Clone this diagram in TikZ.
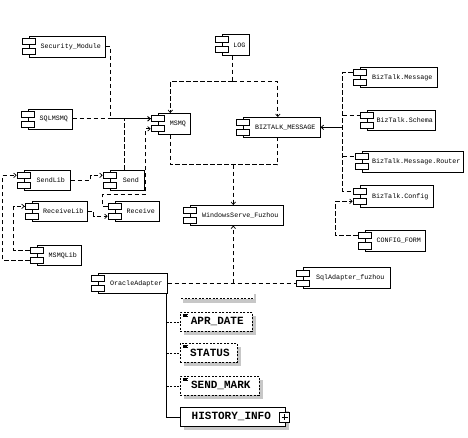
\documentclass[tikz,border=0pt]{standalone}
\usepackage{fontspec}
\newfontfamily\compfont{Liberation Mono}
\usetikzlibrary{arrows.meta,calc,shadows}

\newcommand{\compnode}[6]{%
  \fill[compshadow] (#2+1.2,#3+1.2) rectangle (#4+1.2,#5+1.2);
  \node[compbox, minimum width={(#4-#2)*1pt}, minimum height={(#5-#3)*1pt}] (#1) at (#2,#3) {\hspace*{7pt}#6};
  \node[comppin] (#1-u) at ($(#1.west)+(-0.5,-5)$) {};
  \node[comppin] (#1-l) at ($(#1.west)+(-0.5,5)$) {};
}

\begin{document}
\begin{tikzpicture}[x=1pt,y=-1pt,
  compshadow/.style={fill=black!65},
  compbox/.style={draw, fill=white, line width=0.6pt, inner xsep=1pt, inner ysep=0pt, anchor=north west,
    font=\compfont\fontsize{6.7}{7}\selectfont},
  comppin/.style={draw, fill=white, line width=0.6pt, minimum width=13pt, minimum height=6pt, inner sep=0pt},
  dep/.style={line width=0.7pt, dash pattern=on 4.5pt off 2.5pt},
  arr/.style={-{Straight Barb[length=2.5pt,width=4.5pt]}},
  finedash/.style={line width=0.6pt, dash pattern=on 2pt off 1.5pt},
  schshadow/.style={fill=black!22},
  attrbox/.style={draw, fill=white, line width=0.6pt, dash pattern=on 2pt off 1.5pt, anchor=north west, inner sep=0pt,
    font=\compfont\bfseries\fontsize{11}{12}\selectfont,
    general shadow={fill=black!22, shadow xshift=4pt, shadow yshift=-4pt}},
  histbox/.style={draw, fill=white, line width=0.7pt, anchor=north west, inner sep=0pt,
    font=\compfont\bfseries\fontsize{11}{12}\selectfont,
    general shadow={fill=black!22, shadow xshift=4pt, shadow yshift=-4pt}},
  plusbox/.style={draw, fill=white, line width=0.6pt, minimum size=10pt, inner sep=0pt,
    path picture={
      \draw[line width=0.6pt] ([yshift=-2pt]path picture bounding box.north) -- ([yshift=2pt]path picture bounding box.south);
      \draw[line width=0.6pt] ([xshift=2pt]path picture bounding box.west) -- ([xshift=-2pt]path picture bounding box.east);}}
]
\useasboundingbox (0,0) rectangle (468,438);

% components
\compnode{sec}{29}{36}{105}{57}{Security\_Module}
\compnode{log}{222}{34}{249}{55}{LOG}
\compnode{sqlmsmq}{28}{109}{72}{129}{SQLMSMQ}
\compnode{msmq}{158}{113}{190}{134}{MSMQ}
\compnode{biz}{243}{117}{320}{137}{BIZTALK\_MESSAGE}
\compnode{bzmsg}{360}{67}{437}{87}{BizTalk.Message}
\compnode{bzsch}{367}{110}{435}{130}{BizTalk.Schema}
\compnode{bzrt}{362}{151}{463}{172}{BizTalk.Message.Router}
\compnode{bzcfg}{360}{185}{433}{207}{BizTalk.Config}
\compnode{cfgform}{365}{230}{425}{251}{CONFIG\_FORM}
\compnode{sendlib}{24}{170}{70}{190}{SendLib}
\compnode{send}{110}{170}{144}{190}{Send}
\compnode{recvlib}{32}{201}{87}{221}{ReceiveLib}
\compnode{recv}{115}{201}{159}{221}{Receive}
\compnode{msmqlib}{37}{245}{81}{265}{MSMQLib}
\compnode{ws}{190}{205}{283}{225}{WindowsServe\_Fuzhou}
\compnode{oa}{98}{273}{167}{293}{OracleAdapter}
\compnode{sql}{303}{267}{390}{288}{SqlAdapter\_fuzhou}

% MSMQ inputs
\draw[dep,arr] (sec.east) -- ++(5,0) |- (msmq-u.west);
\draw[dep,arr] (sqlmsmq.east |- msmq-u.west) -- (msmq-u.west);
\coordinate (sendtop) at ($(send.north)+(-3,0)$);
\draw[dep] (sendtop) -- (sendtop |- msmq-u.west);
\draw[dep,arr] (recv-u.west) -- ++(-5,0) -- ++(0,-12) -- ++(43,0) |- (msmq-l.west);

% libraries
\draw[dep,arr] (sendlib.east) -- ++(20,0) |- (send-u.west);
\draw[dep,arr] (recvlib.east) -- ++(6,0) |- (recv-l.west);
\draw[dep,arr] (msmqlib-l.west) -- ++(-27,0) |- (sendlib-u.west);
\draw[dep,arr] (msmqlib-u.west) -- ++(-16,0) |- (recvlib-u.west);

% LOG loop
\coordinate (lg1) at ($(log.south)+(-3,0)$);
\coordinate (mq1) at ($(msmq.north)+(-4,0)$);
\coordinate (bz1) at ($(biz.north)+(-4,0)$);
\coordinate (mq2) at ($(msmq.south)+(-4,0)$);
\coordinate (bz2) at ($(biz.south)+(-4,0)$);
\coordinate (ws1) at ($(ws.north)+(-3.5,0)$);
\coordinate (ws2) at ($(ws.south)+(-3.5,0)$);
\draw[dep] (lg1) -- ++(0,26) coordinate (topj);
\draw[dep,arr] (topj) -| (mq1);
\draw[dep,arr] (topj) -| (bz1);
\draw[dep] (mq2) -- ++(0,30) coordinate (botj) -| (bz2);
\draw[dep,arr] (ws1 |- botj) -- (ws1);

% BizTalk bus
\coordinate (bus) at ($(bzmsg-u.west)+(-10,0)$);
\draw[dep] (bzmsg-u.west) -- (bus) -- (bus |- bzcfg-u.west) -- (bzcfg-u.west);
\draw[dep] (bus |- bzsch-u.west) -- (bzsch-u.west);
\draw[dep] (bus |- bzrt-u.west) -- (bzrt-u.west);
\draw[line width=0.8pt,arr] (bus |- biz.east) -- (biz.east);
\draw[dep,arr] (cfgform-u.west) -- ++(-22,0) |- (bzcfg-l.west);

% adapters
\draw[dep] (oa.east) -- (oa.east -| sql-l.west);
\draw[dep,arr] (ws2 |- oa.east) -- (ws2);

% schema tree
\fill[schshadow] (183,299) rectangle (256,302.5);
\fill[schshadow] (253.5,293.5) rectangle (256,302.5);
\draw[finedash] (181,298) -- (253,298);

\node[attrbox, minimum width=72pt, minimum height=19pt] (apr) at (180,312) {\hspace*{2pt}APR\_DATE};
\node[attrbox, minimum width=57pt, minimum height=19pt] (status) at (180,343) {\hspace*{2pt}STATUS};
\node[attrbox, minimum width=79pt, minimum height=19pt] (sendmark) at (180,376) {\hspace*{2pt}SEND\_MARK};
\node[histbox, minimum width=105pt, minimum height=19pt] (hist) at (180,407) {HISTORY\_INFO\hspace*{3pt}};
\node[plusbox] (hplus) at ($(hist.east)+(-1,0.5)$) {};

\foreach \n in {apr,status,sendmark} {
  \draw[line width=0.3pt] ($(\n.north west)+(3,1.8)$) -- ++(4.5,0);
  \draw[line width=0.3pt] ($(\n.north west)+(3,3.2)$) -- ++(3.5,0);
  \draw[line width=0.3pt] ($(\n.north west)+(3,4.6)$) -- ++(4.5,0);
}

\coordinate (trunk) at ($(oa.south east)+(-1,0)$);
\draw[line width=0.7pt] (trunk) |- (hist.west);
\foreach \n in {apr,status,sendmark} {
  \draw[finedash] (trunk |- \n.west) -- (\n.west);
}
\end{tikzpicture}
\end{document}
